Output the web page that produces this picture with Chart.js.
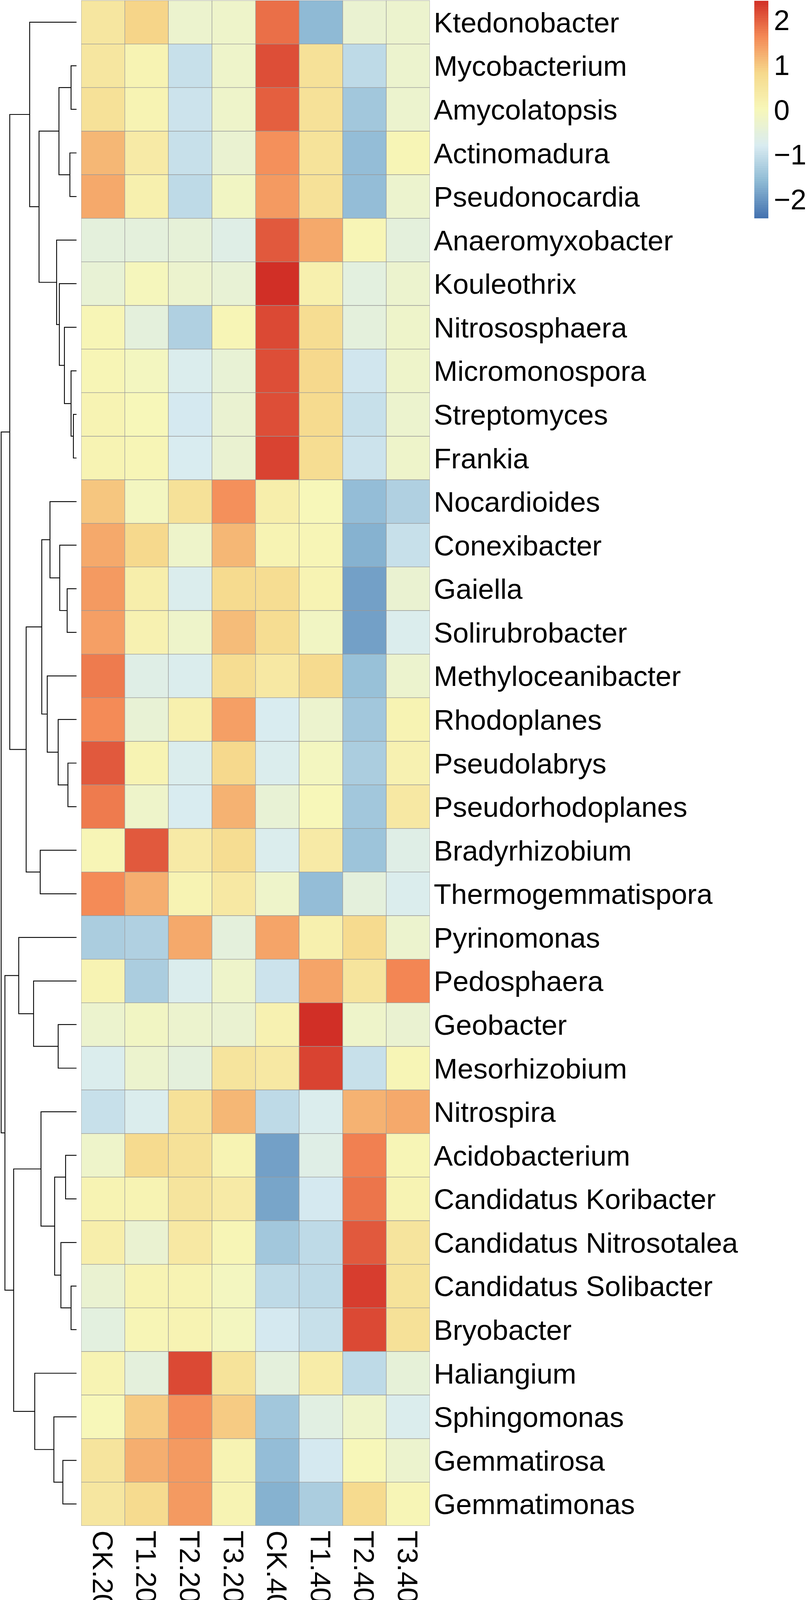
<!DOCTYPE html>
<html>
<head>
<meta charset="utf-8">
<title>Heatmap</title>
<script src="https://cdn.jsdelivr.net/npm/chart.js@4.4.1/dist/chart.umd.min.js"></script>
<style>
  html, body { margin: 0; padding: 0; background: #fff; overflow: hidden; }
  #wrap { width: 2067px; height: 4120px; position: relative; }
</style>
</head>
<body>
<div id="wrap"><canvas id="heatmap"></canvas></div>
<script>
// rows (display order, top to bottom) and columns
const taxa = [
    'Ktedonobacter', 'Mycobacterium', 'Amycolatopsis', 'Actinomadura', 'Pseudonocardia',
    'Anaeromyxobacter', 'Kouleothrix', 'Nitrososphaera', 'Micromonospora', 'Streptomyces',
    'Frankia', 'Nocardioides', 'Conexibacter', 'Gaiella', 'Solirubrobacter',
    'Methyloceanibacter', 'Rhodoplanes', 'Pseudolabrys', 'Pseudorhodoplanes', 'Bradyrhizobium',
    'Thermogemmatispora', 'Pyrinomonas', 'Pedosphaera', 'Geobacter', 'Mesorhizobium',
    'Nitrospira', 'Acidobacterium', 'Candidatus Koribacter', 'Candidatus Nitrosotalea',
    'Candidatus Solibacter', 'Bryobacter', 'Haliangium', 'Sphingomonas', 'Gemmatirosa', 'Gemmatimonas'
];
const samples = ['CK.20', 'T1.20', 'T2.20', 'T3.20', 'CK.40', 'T1.40', 'T2.40', 'T3.40'];

// row-scaled values (z-score), one array per sample, in taxa order
const zCK20 = [0.45, 0.45, 0.6, 1.15, 1.3, -0.5, -0.4, 0.05, 0.05, 0.1, 0.1,
    1.0, 1.3, 1.45, 1.4, 1.75, 1.6, 2.05, 1.75, 0.05, 1.6,
    -1.3, 0.1, -0.3, -0.75, -1.0, -0.25, 0.1, 0.25, -0.35, -0.55, 0.1, 0, 0.5, 0.45];
const zT120 = [0.85, 0.1, 0.1, 0.35, 0.2, -0.5, -0.05, -0.5, -0.1, 0, 0.05,
    -0.1, 0.8, 0.25, 0.15, -0.65, -0.4, 0.1, -0.25, 2.05, 1.25,
    -1.25, -1.3, -0.15, -0.3, -0.75, 0.75, 0.1, -0.35, 0.1, 0.05, -0.5, 0.95, 1.25, 0.75];
const zT220 = [-0.3, -1.0, -0.95, -1.0, -1.1, -0.45, -0.3, -1.25, -0.75, -0.85, -0.8,
    0.6, -0.25, -0.75, -0.25, -0.75, 0.2, -0.75, -0.8, 0.35, 0.1,
    1.3, -0.75, -0.3, -0.5, 0.6, 0.6, 0.5, 0.4, 0.1, 0.1, 2.2, 1.55, 1.45, 1.45];
const zT320 = [-0.25, -0.25, -0.25, -0.35, -0.15, -0.65, -0.4, 0.05, -0.4, -0.35, -0.35,
    1.55, 1.15, 0.75, 1.1, 0.7, 1.4, 0.8, 1.2, 0.7, 0.4,
    -0.5, -0.25, -0.35, 0.5, 1.15, 0.1, 0.35, 0.05, -0.1, -0.1, 0.55, 0.95, 0.1, 0.1];
const zCK40 = [1.85, 2.15, 2.0, 1.55, 1.45, 2.05, 2.45, 2.2, 2.15, 2.15, 2.25,
    0.25, 0.1, 0.7, 0.7, 0.4, -0.8, -0.75, -0.4, -0.75, -0.25,
    1.35, -0.95, 0.15, 0.4, -1.1, -1.9, -1.85, -1.4, -1.1, -0.85, -0.5, -1.4, -1.55, -1.7];
const zT140 = [-1.6, 0.6, 0.6, 0.55, 0.6, 1.3, 0.2, 0.7, 0.8, 0.75, 0.7,
    0, 0.05, 0.1, -0.15, 0.75, -0.3, -0.1, 0, 0.35, -1.55,
    0.2, 1.35, 2.45, 2.25, -0.75, -0.65, -0.85, -1.1, -1.1, -1.0, 0.3, -0.6, -0.85, -1.3];
const zT240 = [-0.35, -1.1, -1.4, -1.55, -1.55, 0.05, -0.55, -0.5, -0.9, -1.0, -0.95,
    -1.55, -1.7, -1.9, -1.9, -1.5, -1.4, -1.3, -1.4, -1.45, -0.5,
    0.75, 0.5, -0.25, -1.0, 1.2, 1.7, 1.8, 2.05, 2.3, 2.2, -1.1, -0.25, 0, 0.75];
const zT340 = [-0.3, -0.3, -0.3, 0.05, -0.3, -0.5, -0.3, -0.25, -0.25, -0.3, -0.25,
    -1.25, -1.0, -0.35, -0.75, -0.3, 0.1, 0.15, 0.4, -0.65, -0.75,
    -0.3, 1.65, -0.35, 0.05, 1.3, 0.05, 0.1, 0.5, 0.55, 0.6, -0.45, -0.75, -0.3, 0.05];
const columns = [zCK20, zT120, zT220, zT320, zCK40, zT140, zT240, zT340];

// row dendrogram, hclust style: negative = leaf (1-based row), positive = earlier merge
const mergeA = [-2, -4, 1, -10, -9, -8, -7, -6, 3, -1, -14, -13, -12, -18, -17, -16, 13,
    -20, 17, 10, -24, -23, -22, -27, -30, -29, 24, -26, -34, -33, -32, 28, 23, 20];
const mergeB = [-3, -5, 2, -11, 4, 5, 6, 7, 8, 9, -15, 11, 12, -19, 14, 15, 16,
    -21, 18, 19, -25, 21, 22, -28, -31, 25, 26, 27, -35, 29, 30, 31, 32, 33];
const mergeHeight = [0.7, 0.85, 2.25, 0.4, 0.7, 1.55, 2.2, 2.55, 4.8, 6.0, 1.2, 2.15, 3.4,
    1.1, 2.35, 3.75, 4.45, 4.65, 6.45, 8.55, 2.35, 5.5, 7.4, 1.4, 0.7, 2.0, 2.8, 4.55,
    1.75, 2.9, 5.35, 8.05, 9.17, 9.65];

// colour key
const legendTicks = [2, 1, 0, -1, -2];
const colorMax = 2.43;
// RdYlBu (7), reversed, toned down slightly to match the print
const palette = ['#4371AF', '#8DB9D4', '#D9ECF1', '#F7F7B9', '#F6D98C', '#F48956', '#D12F26'];

function hexToRgb(h) {
    return [1, 3, 5].map(i => parseInt(h.slice(i, i + 2), 16));
}

function zColor(v) {
    const t = Math.min(1, Math.max(0, (v + colorMax) / (2 * colorMax)));
    const p = t * (palette.length - 1);
    const i = Math.min(palette.length - 2, Math.floor(p));
    const f = p - i;
    const a = hexToRgb(palette[i]);
    const b = hexToRgb(palette[i + 1]);
    const c = a.map((x, k) => Math.round(x + (b[k] - x) * f));
    return 'rgb(' + c.join(',') + ')';
}

// heatmap cells: one floating-bar dataset per sample column
const cellSets = samples.map((s, c) => ({
    type: 'bar',
    label: s,
    data: columns[c].map(() => [c, c + 1]),
    backgroundColor: columns[c].map(zColor),
    borderColor: '#999999',
    borderWidth: 1,
    borderSkipped: false,
    grouped: false,
    barPercentage: 1,
    categoryPercentage: 1,
    xAxisID: 'x',
    yAxisID: 'y'
}));

// dendrogram: one U-shaped line per merge
const nodes = [];
function nodeOf(k) {
    return k < 0 ? { h: 0, y: -k - 1 } : nodes[k - 1];
}
const treeSets = [];
mergeHeight.forEach((h, j) => {
    const a = nodeOf(mergeA[j]);
    const b = nodeOf(mergeB[j]);
    nodes.push({ h: h, y: (a.y + b.y) / 2 });
    treeSets.push({
        type: 'line',
        data: [
            { x: a.h, y: a.y }, { x: h, y: a.y },
            { x: h, y: b.y }, { x: b.h, y: b.y }
        ],
        borderColor: '#000000',
        borderWidth: 2.2,
        pointRadius: 0,
        fill: false,
        tension: 0,
        clip: false,
        xAxisID: 'xd',
        yAxisID: 'yd'
    });
});

const FONT = '"Liberation Sans", Arial, Helvetica, sans-serif';
const FONT_PX = 73;

const textPlugin = {
    id: 'heatmapText',
    afterDraw(chart) {
        const { ctx, chartArea, scales } = chart;
        const capH = FONT_PX * 0.716;
        ctx.save();
        ctx.fillStyle = '#000';
        ctx.font = FONT_PX + 'px ' + FONT;
        ctx.textAlign = 'left';
        ctx.textBaseline = 'alphabetic';

        // row names
        taxa.forEach((name, i) => {
            const y = scales.y.getPixelForValue(i);
            ctx.fillText(name, chartArea.right + 10, y + capH / 2);
        });

        // column names, turned 90 degrees clockwise
        samples.forEach((s, c) => {
            const x = scales.x.getPixelForValue(c + 0.5);
            ctx.save();
            ctx.translate(x, chartArea.bottom + 12);
            ctx.rotate(Math.PI / 2);
            ctx.fillText(s, 0, capH / 2);
            ctx.restore();
        });

        // colour key
        const kx = 1932, kw = 36, ktop = 2, kbot = 559;
        const keyY = v => ktop + (colorMax - v) / (2 * colorMax) * (kbot - ktop);
        const steps = 100;
        for (let k = 0; k < steps; k++) {
            const v1 = colorMax - k * 2 * colorMax / steps;
            const v2 = colorMax - (k + 1) * 2 * colorMax / steps;
            ctx.fillStyle = zColor((v1 + v2) / 2);
            const y1 = Math.floor(keyY(v1));
            ctx.fillRect(kx, y1, kw, Math.ceil(keyY(v2)) - y1);
        }
        ctx.fillStyle = '#000';
        legendTicks.forEach(v => {
            const txt = v < 0 ? '\u2212' + Math.abs(v) : String(v);
            ctx.fillText(txt, kx + kw + 14, keyY(v) + capH / 2);
        });
        ctx.restore();
    }
};

new Chart(document.getElementById('heatmap'), {
    type: 'bar',
    data: {
        labels: taxa,
        datasets: cellSets.concat(treeSets)
    },
    options: {
        indexAxis: 'y',
        animation: false,
        responsive: true,
        maintainAspectRatio: false,
        events: [],
        layout: { padding: { left: 208, right: 966, top: 1, bottom: 214 } },
        plugins: {
            legend: { display: false },
            tooltip: { enabled: false },
            title: { display: false }
        },
        scales: {
            x: { type: 'linear', axis: 'x', min: 0, max: 8, display: false },
            y: { type: 'category', axis: 'y', offset: true, display: false },
            xd: { type: 'linear', axis: 'x', reverse: true, min: -45.25, max: -0.6, offset: false, display: false },
            yd: { type: 'linear', axis: 'y', reverse: true, min: -0.5, max: 34.5, offset: false, display: false }
        }
    },
    plugins: [textPlugin]
});
</script>
</body>
</html>
